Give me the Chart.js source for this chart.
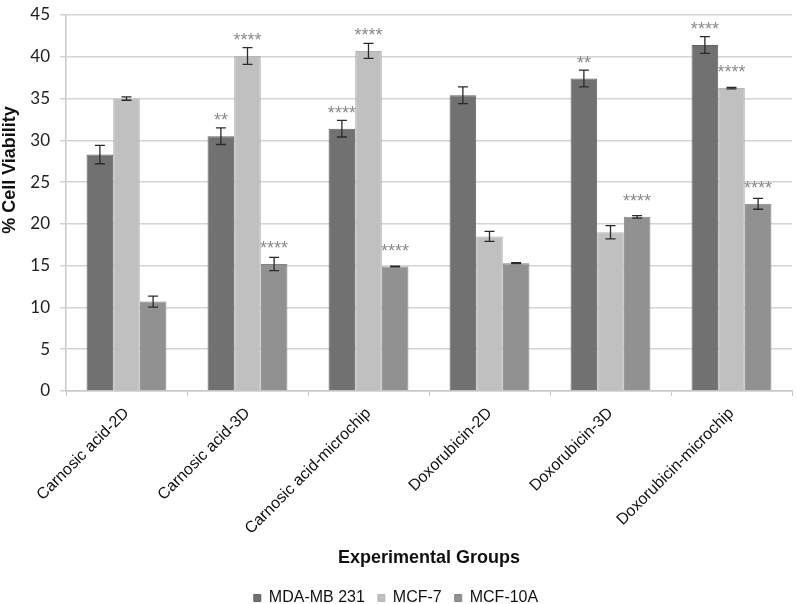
<!DOCTYPE html>
<html>
<head>
<meta charset="utf-8">
<script src="https://cdn.jsdelivr.net/npm/chart.js@4.4.0/dist/chart.umd.min.js"></script>
<style>
  html, body { margin: 0; padding: 0; background: #ffffff; }
  #wrap { width: 796px; height: 604px; position: relative; }
</style>
</head>
<body>
<div id="wrap"><canvas id="c" width="796" height="604"></canvas></div>
<script>
// ---- data ----
const categories = ["Carnosic acid-2D", "Carnosic acid-3D", "Carnosic acid-microchip", "Doxorubicin-2D", "Doxorubicin-3D", "Doxorubicin-microchip"];
const seriesNames = ["MDA-MB 231", "MCF-7", "MCF-10A"];
const mdaValues = [28.3, 30.5, 31.4, 35.4, 37.4, 41.4];
const mdaErrors = [1.1, 1.0, 1.0, 1.0, 1.0, 1.0];
const mdaSig = ["", "**", "****", "", "**", "****"];
const mcf7Values = [35.0, 40.1, 40.7, 18.5, 19.0, 36.25];
const mcf7Errors = [0.2, 1.0, 0.9, 0.6, 0.8, 0.1];
const mcf7Sig = ["", "****", "****", "", "", "****"];
const mcf10aValues = [10.7, 15.2, 14.9, 15.3, 20.85, 22.4];
const mcf10aErrors = [0.65, 0.8, 0.05, 0.05, 0.15, 0.65];
const mcf10aSig = ["", "****", "****", "", "****", "****"];
const yTicks = [0, 5, 10, 15, 20, 25, 30, 35, 40, 45];

const errorsBySeries = [mdaErrors, mcf7Errors, mcf10aErrors];
const sigBySeries = [mdaSig, mcf7Sig, mcf10aSig];

const errorBarPlugin = {
  id: 'errorBars',
  afterDatasetsDraw(chart) {
    const ctx = chart.ctx;
    const yScale = chart.scales.y;
    ctx.save();
    chart.data.datasets.forEach((ds, di) => {
      const meta = chart.getDatasetMeta(di);
      meta.data.forEach((bar, i) => {
        const v = ds.data[i];
        const e = errorsBySeries[di][i];
        const x = bar.x;
        const yTop = yScale.getPixelForValue(v + e);
        const yBot = yScale.getPixelForValue(v - e);
        ctx.strokeStyle = '#2a2a2a';
        ctx.lineWidth = 1.3;
        ctx.beginPath();
        ctx.moveTo(x, yTop); ctx.lineTo(x, yBot);
        ctx.moveTo(x - 5, yTop); ctx.lineTo(x + 5, yTop);
        ctx.moveTo(x - 5, yBot); ctx.lineTo(x + 5, yBot);
        ctx.stroke();
        const s = sigBySeries[di][i];
        if (s) {
          ctx.fillStyle = '#8a8a8a';
          ctx.font = '18px "Liberation Sans", Arial, sans-serif';
          ctx.textAlign = 'center';
          ctx.textBaseline = 'alphabetic';
          ctx.fillText(s, x, yScale.getPixelForValue(v) - 10);
        }
      });
    });
    ctx.restore();
  }
};

const yTitlePlugin = {
  id: 'yTitle',
  afterDraw(chart) {
    const ctx = chart.ctx;
    ctx.save();
    ctx.translate(10, 170);
    ctx.rotate(-Math.PI / 2);
    ctx.fillStyle = '#111';
    ctx.font = 'bold 18px "Liberation Sans", Arial, sans-serif';
    ctx.textAlign = 'center';
    ctx.textBaseline = 'middle';
    ctx.fillText('% Cell Viability', 0, 0);
    ctx.restore();
  }
};

const fillColors = ['#717171', '#c0c0c0', '#919191'];
const borderColors = ['#626262', '#b4b4b4', '#848484'];
const allValues = [mdaValues, mcf7Values, mcf10aValues];

new Chart(document.getElementById('c'), {
  type: 'bar',
  data: {
    labels: categories,
    datasets: seriesNames.map((n, i) => ({
      label: n,
      data: allValues[i],
      backgroundColor: fillColors[i],
      borderColor: borderColors[i],
      borderWidth: 1,
      categoryPercentage: 0.66,
      barPercentage: 1.0
    }))
  },
  options: {
    responsive: false,
    animation: false,
    devicePixelRatio: 1,
    layout: { padding: { left: 0, right: 4, top: 15, bottom: -12 } },
    plugins: {
      tooltip: { enabled: false },
      legend: {
        position: 'bottom',
        labels: {
          boxWidth: 7,
          boxHeight: 7,
          padding: 13,
          color: '#111',
          font: { size: 16, family: '"Liberation Sans", Arial, sans-serif' }
        }
      }
    },
    scales: {
      x: {
        offset: true,
        grid: {
          display: true,
          drawOnChartArea: false,
          drawTicks: true,
          tickLength: 5,
          offset: true,
          color: '#c8c8c8'
        },
        border: { display: true, color: '#c8c8c8', width: 1.5 },
        ticks: {
          minRotation: 45,
          maxRotation: 45,
          autoSkip: false,
          padding: 8,
          color: '#111',
          font: { size: 16, family: '"Liberation Sans", Arial, sans-serif' }
        },
        title: {
          display: true,
          text: 'Experimental Groups',
          color: '#111',
          padding: { top: 4, bottom: 8 },
          font: { size: 18, weight: 'bold', family: '"Liberation Sans", Arial, sans-serif' }
        },
        afterFit(scale) { scale.height = 186; }
      },
      y: {
        min: 0,
        max: 45,
        afterBuildTicks(scale) { scale.ticks = yTicks.map(v => ({ value: v })); },
        grid: {
          color: '#d4d4d4',
          lineWidth: 1.5,
          tickLength: 6,
          drawTicks: true
        },
        border: { display: true, color: '#c8c8c8', width: 1.5 },
        ticks: {
          padding: 10,
          color: '#222',
          font: { size: 17, family: 'Lato, "Open Sans", sans-serif' }
        },
        afterFit(scale) { scale.width = 66; scale.paddingTop = 0; scale.paddingBottom = 0; }
      }
    }
  },
  plugins: [errorBarPlugin, yTitlePlugin]
});
</script>
</body>
</html>
